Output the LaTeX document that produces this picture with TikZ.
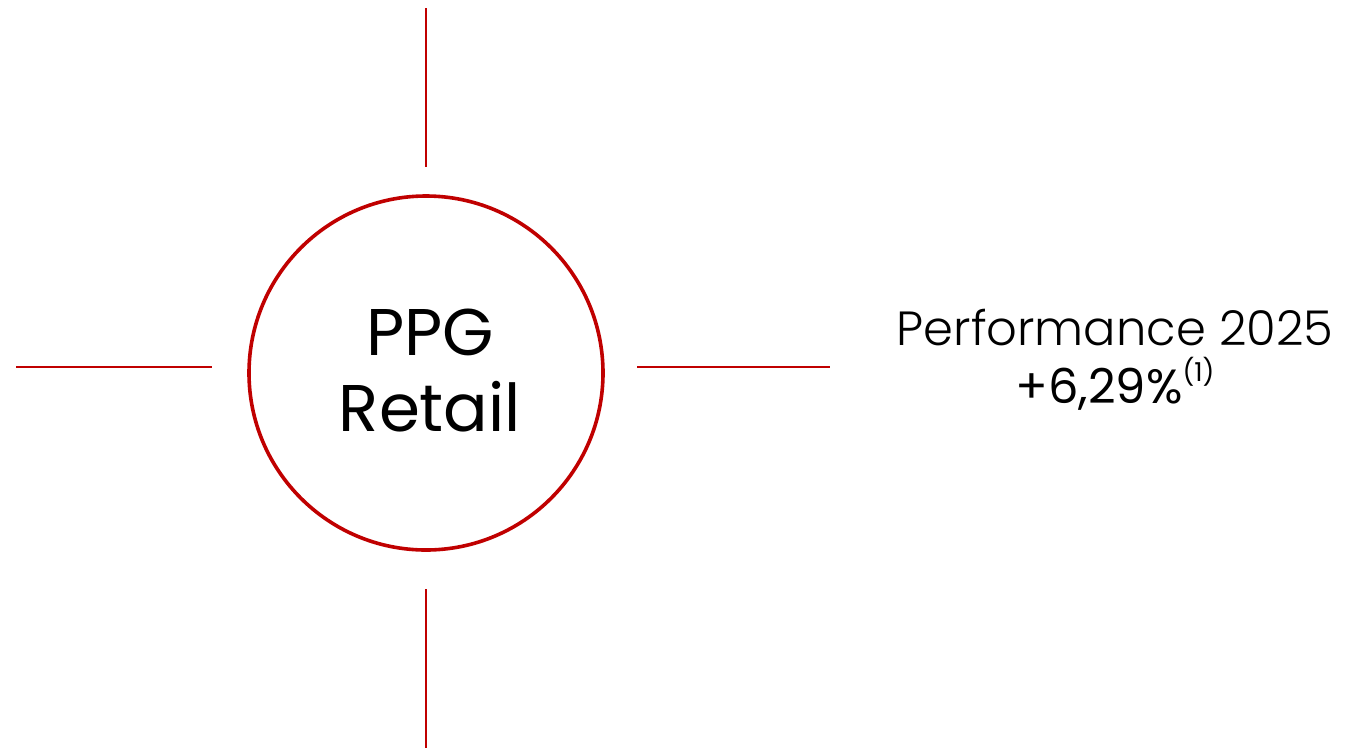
\documentclass[tikz,border=0pt]{standalone}
\usepackage{fontspec}
\setmainfont{Poppins}
\newfontfamily\lightfont{Poppins Light}
\definecolor{ppgred}{HTML}{C00000}
\begin{document}
\begin{tikzpicture}[x=1pt,y=-1pt,
  spoke/.style={draw=ppgred,line width=2pt},
  ring/.style={circle,draw=ppgred,line width=3.6pt,minimum size=354pt,inner sep=0pt},
  label/.style={align=center,inner sep=0pt}]
\useasboundingbox (0,0) rectangle (1361,748);
\node[ring] (c) at (426,373) {};
\node[label,font=\fontsize{66}{76}\selectfont] (t) at (430,371) {PPG\\Retail};
\coordinate (tA) at (426,8);   \coordinate (tB) at (426,167);
\coordinate (bA) at (426,589); \coordinate (bB) at (426,748);
\coordinate (lA) at (16,367);  \coordinate (lB) at (212,367);
\coordinate (rA) at (637,367); \coordinate (rB) at (830,367);
\draw[spoke] (tA) -- (tB);
\draw[spoke] (bA) -- (bB);
\draw[spoke] (lA) -- (lB);
\draw[spoke] (rA) -- (rB);
\node[label,font=\lightfont\fontsize{48}{58}\selectfont,anchor=base] (p) at (1115,345) {Performance 2025};
\node[label,font=\fontsize{48}{58}\selectfont,anchor=base] (v) at (1115,403) {+6,29\%\raisebox{0.45em}{\fontsize{26}{30}\selectfont(1)}};
\end{tikzpicture}
\end{document}
